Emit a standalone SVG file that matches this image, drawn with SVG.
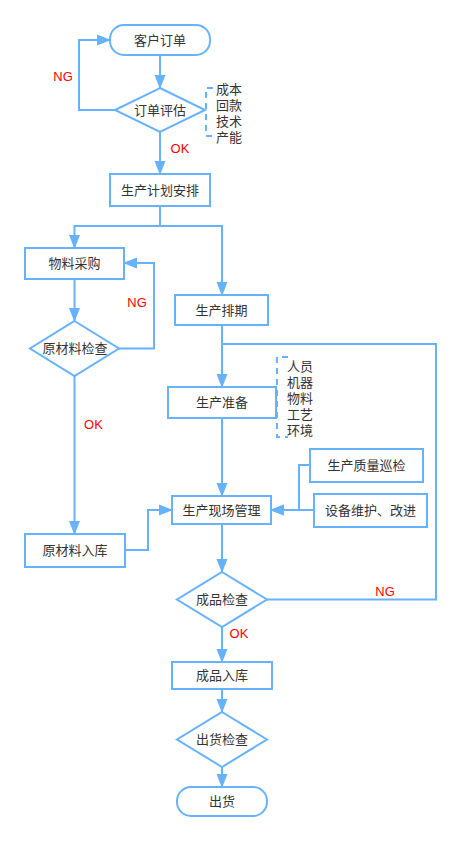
<svg xmlns="http://www.w3.org/2000/svg" width="460" height="841" viewBox="0 0 460 841">
<style>
.n{fill:#fff;stroke:#66B2FF;stroke-width:2}
.c{fill:none;stroke:#66B2FF;stroke-width:2}
.d{fill:none;stroke:#66B2FF;stroke-width:2;stroke-dasharray:6 5}
text{font-family:"Liberation Sans","Noto Sans CJK SC",sans-serif;font-size:13px;fill:#333;dominant-baseline:central}
.t{text-anchor:middle}
.r{fill:#FF0000;text-anchor:middle}
</style>
<defs>
<marker id="a" markerUnits="userSpaceOnUse" markerWidth="14" markerHeight="12" refX="13" refY="6" orient="auto">
<path d="M0,0.5 L14,6 L0,11.5 z" fill="#66B2FF"/>
</marker>
</defs>
<rect width="460" height="841" fill="#fff"/>
<g id="connectors">
<path class="c" d="M160,55 V88" marker-end="url(#a)"/>
<path class="c" d="M115,110 H79 V40 H110" marker-end="url(#a)"/>
<path class="c" d="M160,132 V174" marker-end="url(#a)"/>
<path class="c" d="M160,206 V226 H74.5 V248" marker-end="url(#a)"/>
<path class="c" d="M160,226 H222 V295" marker-end="url(#a)"/>
<path class="c" d="M74.5,279 V321" marker-end="url(#a)"/>
<path class="c" d="M119,348.5 H154 V263 H124" marker-end="url(#a)"/>
<path class="c" d="M74.5,376 V534" marker-end="url(#a)"/>
<path class="c" d="M222,325 V387" marker-end="url(#a)"/>
<path class="c" d="M267,599.5 H436 V344 H222"/>
<path class="c" d="M222,418 V496" marker-end="url(#a)"/>
<path class="c" d="M125,550 H148 V510 H172" marker-end="url(#a)"/>
<path class="c" d="M310,465 H299 V510 H271" marker-end="url(#a)"/>
<path class="c" d="M314,510 H271" marker-end="url(#a)"/>
<path class="c" d="M222,524 V572" marker-end="url(#a)"/>
<path class="c" d="M222,627 V662" marker-end="url(#a)"/>
<path class="c" d="M222,689 V712" marker-end="url(#a)"/>
<path class="c" d="M222,767 V787" marker-end="url(#a)"/>
<text class="r" x="63" y="76">NG</text>
<text class="r" x="180" y="148">OK</text>
<text class="r" x="137" y="302">NG</text>
<text class="r" x="93.5" y="424">OK</text>
<text class="r" x="385" y="591">NG</text>
<text class="r" x="239" y="633">OK</text>
</g>
<g id="n1"><rect class="n" x="110" y="25" width="100" height="30" rx="14"/><text class="t" x="160" y="40">客户订单</text></g>
<g id="n2"><path class="n" d="M160,88 L205,110 L160,132 L115,110 z"/><text class="t" x="160" y="110">订单评估</text></g>
<g id="a1"><path class="d" d="M213,88 H206 V136 H213"/>
<text x="216" y="89.5">成本</text><text x="216" y="105.5">回款</text><text x="216" y="121.5">技术</text><text x="216" y="137.5">产能</text></g>
<g id="n3"><rect class="n" x="110" y="174" width="100" height="32"/><text class="t" x="160" y="190">生产计划安排</text></g>
<g id="n4"><rect class="n" x="25" y="248" width="99" height="31"/><text class="t" x="74.5" y="263.5">物料采购</text></g>
<g id="n5"><rect class="n" x="175" y="295" width="93" height="30"/><text class="t" x="221.5" y="310">生产排期</text></g>
<g id="n6"><path class="n" d="M74.5,321 L119,348.5 L74.5,376 L30,348.5 z"/><text class="t" x="75" y="348.5">原材料检查</text></g>
<g id="n7"><rect class="n" x="168" y="387" width="108" height="31"/><text class="t" x="222" y="402.5">生产准备</text></g>
<g id="a2"><path class="d" d="M288,357 H277 V437 H288"/>
<text x="287" y="366">人员</text><text x="287" y="382">机器</text><text x="287" y="398">物料</text><text x="287" y="414">工艺</text><text x="287" y="430">环境</text></g>
<g id="n8"><rect class="n" x="310" y="449" width="113" height="33"/><text class="t" x="366.5" y="465.5">生产质量巡检</text></g>
<g id="n9"><rect class="n" x="172" y="496" width="99" height="28"/><text class="t" x="221.5" y="510">生产现场管理</text></g>
<g id="n10"><rect class="n" x="314" y="494" width="113" height="33"/><text class="t" x="370.5" y="510.5">设备维护、改进</text></g>
<g id="n11"><rect class="n" x="25" y="534" width="100" height="33"/><text class="t" x="75" y="550.5">原材料入库</text></g>
<g id="n12"><path class="n" d="M222,572 L267,599.5 L222,627 L177,599.5 z"/><text class="t" x="222" y="599.5">成品检查</text></g>
<g id="n13"><rect class="n" x="172" y="662" width="100" height="27"/><text class="t" x="222" y="675.5">成品入库</text></g>
<g id="n14"><path class="n" d="M222,712 L267,739.5 L222,767 L177,739.5 z"/><text class="t" x="222" y="739.5">出货检查</text></g>
<g id="n15"><rect class="n" x="177" y="787" width="90" height="29" rx="14"/><text class="t" x="222" y="801.5">出货</text></g>
</svg>
